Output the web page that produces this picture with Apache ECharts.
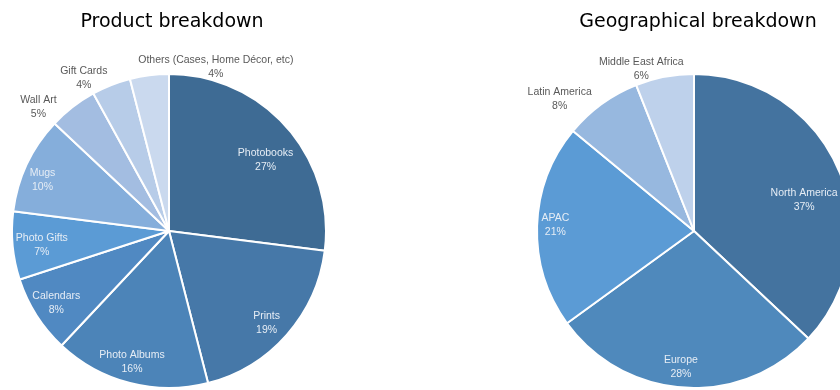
<!DOCTYPE html>
<html>
<head>
<meta charset="utf-8">
<script src="https://cdn.jsdelivr.net/npm/echarts@6/dist/echarts.min.js"></script>
<style>
  html, body { margin: 0; padding: 0; background: #fff; }
  #chart { width: 840px; height: 390px; }
</style>
</head>
<body>
<div id="chart"></div>
<script>
// Product mix (share of revenue, %)
const productNames = ['Photobooks', 'Prints', 'Photo Albums', 'Calendars', 'Photo Gifts', 'Mugs', 'Wall Art', 'Gift Cards', 'Others (Cases, Home Décor, etc)'];
const productValues = [27, 19, 16, 8, 7, 10, 5, 4, 4];

// Regional mix (share of revenue, %)
const geoNames = ['North America', 'Europe', 'APAC', 'Latin America', 'Middle East Africa'];
const geoValues = [37, 28, 21, 8, 6];

const titles = ['Product breakdown', 'Geographical breakdown'];

// Slice palettes, dark to light blue
const productColors = ['#3E6B94', '#4678A8', '#4C84B8', '#5089C2', '#5B9BD5', '#85AEDB', '#A3BDE1', '#B7CCE8', '#CAD9EE'];
const geoColors = ['#44739F', '#4F89BC', '#5B9BD5', '#97B8DF', '#BED1EB'];

const R = 157;
const PIES = [
  { cx: 169, cy: 231, titleX: 167,
    outside: [false, false, false, false, false, false, true, true, true],
    nudge: [[0, 14], [1, 7], [-5, 6], [-4, 3], [1, 2], [-10, 4], [-27, 10], [-23, 4], [68, 4]] },
  { cx: 694, cy: 231, titleX: 693,
    outside: [false, false, false, true, true],
    nudge: [[-8, 20], [-5, 8], [-10, -2], [-35, 5], [-21, 4]] }
];

const labelFont = { fontFamily: 'Liberation Sans', fontSize: 10.5, lineHeight: 14 };

function buildData(names, values, colors, cfg) {
  return names.map((n, i) => ({
    name: n,
    value: values[i],
    itemStyle: { color: colors[i] },
    label: { color: cfg.outside[i] ? '#595959' : '#E6EDF5' }
  }));
}

// Labels sit along each slice's mid angle: inside the slice, or just past the rim
function makeLabelLayout(values, cfg) {
  const total = values.reduce((a, b) => a + b, 0);
  const mids = [];
  let acc = 0;
  values.forEach(v => { mids.push((acc + v / 2) / total * Math.PI * 2); acc += v; });
  return function (params) {
    const i = params.dataIndex;
    const a = mids[i];
    const r = cfg.outside[i] ? R + 12 : R * 0.82;
    const n = cfg.nudge[i] || [0, 0];
    return {
      x: cfg.cx + Math.sin(a) * r + n[0],
      y: cfg.cy - Math.cos(a) * r + n[1],
      align: 'center',
      verticalAlign: 'middle'
    };
  };
}

function pieSeries(names, values, colors, cfg) {
  return {
    type: 'pie',
    center: [cfg.cx, cfg.cy],
    radius: [0, R],
    startAngle: 90,
    clockwise: true,
    avoidLabelOverlap: false,
    silent: true,
    animation: false,
    itemStyle: { borderColor: '#ffffff', borderWidth: 2 },
    label: Object.assign({
      show: true,
      position: 'inside',
      formatter: p => p.name + '\n' + p.value + '%'
    }, labelFont),
    labelLine: { show: false },
    labelLayout: makeLabelLayout(values, cfg),
    data: buildData(names, values, colors, cfg)
  };
}

const chart = echarts.init(document.getElementById('chart'), null, { renderer: 'canvas' });
chart.setOption({
  backgroundColor: '#ffffff',
  animation: false,
  title: titles.map((t, k) => ({
    text: t,
    left: PIES[k].titleX,
    top: 8,
    textAlign: 'center',
    textStyle: { fontFamily: 'DejaVu Sans', fontSize: 19, fontWeight: 'normal', color: '#000000' }
  })),
  series: [
    pieSeries(productNames, productValues, productColors, PIES[0]),
    pieSeries(geoNames, geoValues, geoColors, PIES[1])
  ]
});
</script>
</body>
</html>
